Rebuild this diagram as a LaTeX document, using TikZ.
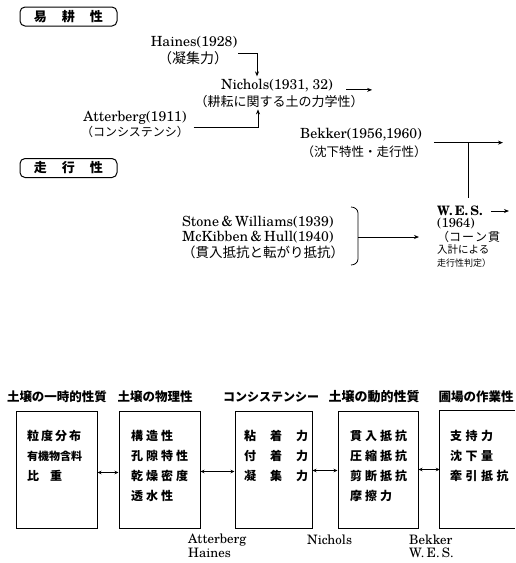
\documentclass[tikz,border=0pt]{standalone}
\usepackage{fontspec}
\newfontfamily\jp{Noto Sans CJK JP}
\newfontfamily\latf{TeX Gyre Schola}
\usetikzlibrary{arrows.meta}
\newcommand\jgap{\hspace{3pt}}
\tikzset{
  lat/.style={font=\latf\fontsize{14}{16}\selectfont, inner sep=0pt},
  latb/.style={font=\latf\fontsize{13}{14}\selectfont\bfseries, inner sep=0pt},
  jpl/.style={font=\jp\fontsize{#1}{#1}\selectfont, inner sep=0pt},
  tbox/.style={draw, line width=1pt, rounded corners=5pt, minimum width=97pt, minimum height=19pt,
    inner sep=0pt, font=\jp\bfseries\fontsize{13}{13}\selectfont},
  hd/.style={font=\jp\bfseries\fontsize{#1}{#1}\selectfont, inner sep=0pt},
  sbox/.style={draw, line width=1pt, inner sep=0pt},
  itm/.style={font=\jp\bfseries\fontsize{12}{12}\selectfont, inner sep=0pt, anchor=west},
  lab/.style={font=\latf\fontsize{13}{14}\selectfont, inner sep=0pt, anchor=west},
  arr/.style={-{Stealth[length=5pt,width=4pt]}, line width=0.8pt},
  darr/.style={{Stealth[length=4pt,width=3.5pt]}-{Stealth[length=4pt,width=3.5pt]}, line width=0.9pt},
  ln/.style={line width=0.8pt}
}
\begin{document}
\begin{tikzpicture}[x=1pt,y=-1pt]
\useasboundingbox (0,0) rectangle (515,563);
% ---------- top: section boxes
\node[tbox] (ek) at (68.5,16.5) {易\hspace{15pt}耕\hspace{15pt}性};
\node[tbox] (so) at (68.5,168) {走\hspace{15pt}行\hspace{15pt}性};
% ---------- Haines / Atterberg / Nichols
\node[lat] (hA) at (194,42) {Haines(1928)};
\node[jpl=14] (hB) at (193,58) {（凝集力）};
\node[lat] (aA) at (135,118) {Atterberg(1911)};
\node[jpl=12] (aB) at (135,132) {（コンシステンシ）};
\node[lat] (nA) at (277,86) {Nichols(1931,\ 32)};
\node[jpl=13] (nB) at (279,102) {（耕耘に関する土の力学性）};
\draw[arr] ([xshift=10pt,yshift=5pt]hB.east) -| ([xshift=-20pt,yshift=3pt]nA.north);
\draw[arr] ([xshift=7pt,yshift=-3pt]aA.south east) -| ([xshift=-21pt,yshift=-1pt]nB.south);
\draw[arr] ([xshift=13pt]nA.base east) -- ++(26,0);
% ---------- Bekker
\node[lat] (bA) at (361,135) {Bekker(1956,1960)};
\node[jpl=12.5] (bB) at (364,152) {（沈下特性・走行性）};
% ---------- Stone & Williams
\node[lat, anchor=west] (sA) at (182,222) {Stone\,\&\,Williams(1939)};
\node[lat, anchor=west] (sB) at (182,237) {McKibben\,\&\,Hull(1940)};
\node[jpl=13.5, anchor=west] (sC) at (182,252) {（貫入抵抗と転がり抵抗）};
% ---------- W.E.S.
\node[latb, anchor=west] (wA) at (437,211) {W.\,E.\,S.};
\node[lat, font=\latf\fontsize{13}{14}\selectfont, anchor=west] (wB) at (437,224) {(1964)};
\node[jpl=12, anchor=west] (wC) at (437,237) {（コ\hspace{1pt}ー\hspace{1pt}ン\hspace{1pt}貫};
\node[jpl=10.5, anchor=west] (wD) at (437,250) {入計による};
\node[jpl=9, anchor=west] (wE) at (437,263) {走行性判定）};
% bracket
\coordinate (brM) at (358,237);
\draw[ln] (351,207) to[out=0,in=90] (358,213) -- (358,259) to[out=-90,in=0] (351,265);
\draw[arr] (brM) -- ([xshift=-18pt]wC.west);
% Bekker connectors
\path ([xshift=12pt,yshift=-1pt]bA.south east) coordinate (bs);
\draw[arr] (bs) -- ++(69,0);
\path (bs) ++(34,0) coordinate (bj);
\draw[ln] (bj) -- ([yshift=8pt]wA.north -| bj);
\draw[arr] ([xshift=8pt]wA.east) -- ++(18,0);
% ---------- bottom headers
\node[hd=12.5] (h1) at (57,397) {土壌の一時的性質};
\node[hd=12.5] (h2) at (155,397) {土壌の物理性};
\node[hd=12] (h3) at (271,397) {コンシステンシー};
\node[hd=13] (h4) at (374,397) {土壌の動的性質};
\node[hd=12.5] (h5) at (476,397) {圃場の作業性};
% ---------- bottom boxes
\node[sbox, minimum width=81pt, minimum height=117pt] (b1) at (56.5,469.5) {};
\node[sbox, minimum width=81pt, minimum height=117pt] (b2) at (159.5,469.5) {};
\node[sbox, minimum width=77pt, minimum height=117pt] (b3) at (273.5,469.5) {};
\node[sbox, minimum width=80pt, minimum height=117pt] (b4) at (378,469.5) {};
\node[inner sep=0pt, minimum width=75pt, minimum height=117pt] (b5) at (477.5,469.5) {};
\draw[line width=1pt] (b5.north east) -- (b5.north west) -- (b5.south west) -- (b5.south east);
% box contents
\node[itm] (t11) at (27,436) {粒\hspace{2pt}度\hspace{2pt}分\hspace{2pt}布};
\node[itm, font=\jp\bfseries\fontsize{11}{11}\selectfont] (t12) at (27,456) {有機物含料};
\node[itm] (t13) at (27,476) {比\hspace{11pt}重};
\node[itm] (t21) at (131,436) {構\jgap 造\jgap 性};
\node[itm] (t22) at (131,456) {孔\jgap 隙\jgap 特\jgap 性};
\node[itm] (t23) at (131,476) {乾\jgap 燥\jgap 密\jgap 度};
\node[itm] (t24) at (131,496) {透\jgap 水\jgap 性};
\node[itm] (t31) at (244,436) {粘\hspace{14pt}着\hspace{14pt}力};
\node[itm] (t32) at (244,456) {付\hspace{14pt}着\hspace{14pt}力};
\node[itm] (t33) at (244,476) {凝\hspace{14pt}集\hspace{14pt}力};
\node[itm] (t41) at (350,436) {貫\jgap 入\jgap 抵\jgap 抗};
\node[itm] (t42) at (350,456) {圧\jgap 縮\jgap 抵\jgap 抗};
\node[itm] (t43) at (350,476) {剪\jgap 断\jgap 抵\jgap 抗};
\node[itm] (t44) at (350,496) {摩\jgap 擦\jgap 力};
\node[itm] (t51) at (450,436) {支\hspace{3.5pt}持\hspace{3.5pt}力};
\node[itm] (t52) at (450,456) {沈\hspace{3.5pt}下\hspace{3.5pt}量};
\node[itm] (t53) at (450,476) {牽\hspace{3.5pt}引\hspace{3.5pt}抵\hspace{3.5pt}抗};
% double arrows
\draw[darr] ([yshift=-3pt]b1.east) -- ([yshift=-3pt]b2.west);
\draw[darr] ([yshift=-2pt]b2.east) -- ([yshift=-2pt]b3.west);
\draw[darr] ([yshift=-1pt]b3.east) -- ([yshift=-1pt]b4.west);
\draw[darr] (b4.east) -- (b5.west);
% bottom labels
\node[lab] (l1) at (188,540) {Atterberg};
\node[lab] (l2) at (188,553) {Haines};
\node[lab] (l3) at (307,540) {Nichols};
\node[lab] (l4) at (409,540) {Bekker};
\node[lab] (l5) at (409,553) {W.\,E.\,S.};
\end{tikzpicture}
\end{document}
